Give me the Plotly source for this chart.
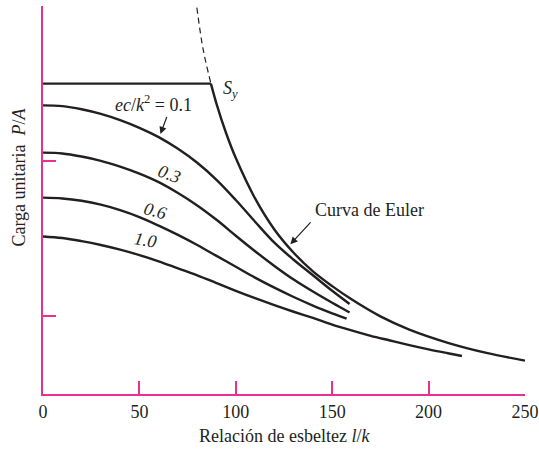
import plotly.graph_objects as go

# Data
sy_x = [0, 87.1]
sy_y = [40.0, 40.0]

euler_dash_x = [79.8, 83.0, 87.1]
euler_dash_y = [49.8, 44.5, 40.0]

euler_x = [87.1, 90, 95, 100, 110, 120, 130, 140, 150, 160, 175, 190, 210, 230, 250]
euler_y = [40.0, 37.4, 33.6, 30.4, 25.2, 21.2, 18.2, 15.8, 13.9, 12.2, 10.0, 8.3, 6.6, 5.3, 4.3]

sec01_x = [0, 10, 20, 30, 40, 50, 60, 70, 80, 90, 100, 110, 120, 130, 140, 150, 159]
sec01_y = [37.2, 37.1, 36.7, 36.1, 35.3, 34.3, 33.1, 31.6, 29.8, 27.6, 25.0, 22.2, 19.5, 17.3, 15.3, 13.3, 11.6]

sec03_x = [0, 10, 20, 30, 40, 50, 60, 70, 80, 90, 100, 110, 120, 130, 140, 150, 159]
sec03_y = [31.1, 31.0, 30.6, 30.05, 29.3, 28.4, 27.3, 25.9, 24.3, 22.45, 20.4, 18.4, 16.5, 14.75, 13.2, 11.75, 10.5]

sec06_x = [0, 10, 20, 30, 40, 50, 60, 70, 80, 90, 100, 110, 120, 130, 140, 150, 157.5]
sec06_y = [25.3, 25.2, 24.9, 24.4, 23.7, 22.8, 21.7, 20.5, 19.2, 17.8, 16.4, 15.0, 13.7, 12.5, 11.4, 10.4, 9.7]

sec10_x = [0, 10, 20, 30, 40, 50, 60, 70, 80, 90, 100, 110, 120, 130, 140, 150, 160, 170, 180, 190, 200, 210, 217.3]
sec10_y = [20.3, 20.1, 19.7, 19.2, 18.6, 17.9, 17.1, 16.2, 15.3, 14.3, 13.3, 12.35, 11.45, 10.6, 9.8,
           8.95, 8.2, 7.5, 6.9, 6.3, 5.75, 5.25, 4.9]

x_ticks = [0, 50, 100, 150, 200, 250]
y_ticks = [10, 30, 49.99]

INK = "#231F20"
MAG = "#E8318F"
FONT = "Liberation Serif"
FS = 18

fig = go.Figure()

def curve(x, y, dash="solid"):
    fig.add_trace(go.Scatter(x=x, y=y, mode="lines",
                             line=dict(color=INK, width=2.4, shape="spline", smoothing=1.0, dash=dash),
                             hoverinfo="skip", showlegend=False, cliponaxis=False))

fig.add_trace(go.Scatter(x=sy_x, y=sy_y, mode="lines", line=dict(color=INK, width=2.4),
                         showlegend=False, hoverinfo="skip"))
fig.add_trace(go.Scatter(x=euler_dash_x, y=euler_dash_y, mode="lines",
                         line=dict(color=INK, width=1.2, dash="6px,4px", shape="spline"),
                         showlegend=False, hoverinfo="skip"))
curve(euler_x, euler_y)
curve(sec01_x, sec01_y)
curve(sec03_x, sec03_y)
curve(sec06_x, sec06_y)
curve(sec10_x, sec10_y)

ann = []
def text(x, y, t, size=FS, angle=0):
    ann.append(dict(x=x, y=y, xref="x", yref="y", text=t, showarrow=False,
                    font=dict(family=FONT, size=size, color=INK), textangle=angle))

text(97, 39.3, "<i>S</i><sub><i>y</i></sub>")
text(57.5, 37.4, "<i>ec</i>/<i>k</i><sup>2</sup> = 0.1")
text(65.5, 28.3, "<i>0.3</i>", FS, 20)
text(58.5, 23.6, "<i>0.6</i>", FS, 15)
text(53, 19.8, "<i>1.0</i>", FS, 10)
text(169.6, 23.7, "Curva de Euler")

def arrow(x, y, ax, ay):
    ann.append(dict(x=x, y=y, ax=ax, ay=ay, xref="x", yref="y", axref="x", ayref="y",
                    text="", showarrow=True, arrowhead=2, arrowsize=1.2, arrowwidth=1.2,
                    arrowcolor=INK, standoff=0))

arrow(60.9, 33.5, 64.5, 35.9)
arrow(128.3, 19.3, 139.5, 22.3)

ann.append(dict(x=0.5, y=-0.107, xref="paper", yref="paper",
                text="Relación de esbeltez <i>l</i>/<i>k</i>", showarrow=False,
                font=dict(family=FONT, size=FS, color=INK), yanchor="middle"))
ann.append(dict(x=-0.05, y=28.0, xref="paper", yref="y",
                text="Carga unitaria  <i>P</i>/<i>A</i>", showarrow=False, textangle=-90,
                font=dict(family=FONT, size=FS, color=INK), xanchor="center", yanchor="middle"))

fig.update_layout(
    width=539, height=450,
    margin=dict(l=43, r=14, t=6, b=56, autoexpand=False),
    paper_bgcolor="white", plot_bgcolor="white",
    annotations=ann,
    xaxis=dict(range=[0, 250], tickvals=x_ticks, ticktext=[str(v) for v in x_ticks],
               showline=True, linecolor=MAG, linewidth=2, ticks="inside", ticklen=13,
               tickwidth=2, tickcolor=MAG, showgrid=False, zeroline=False, automargin=False,
               tickfont=dict(family=FONT, size=FS, color=INK)),
    yaxis=dict(range=[0, 50], tickvals=y_ticks, showticklabels=False, automargin=False,
               showline=True, linecolor=MAG, linewidth=2, ticks="inside", ticklen=13,
               tickwidth=2, tickcolor=MAG, showgrid=False, zeroline=False),
)

fig.write_html("out.html", config={"displayModeBar": False},
               post_script="document.body.style.margin='0';")
